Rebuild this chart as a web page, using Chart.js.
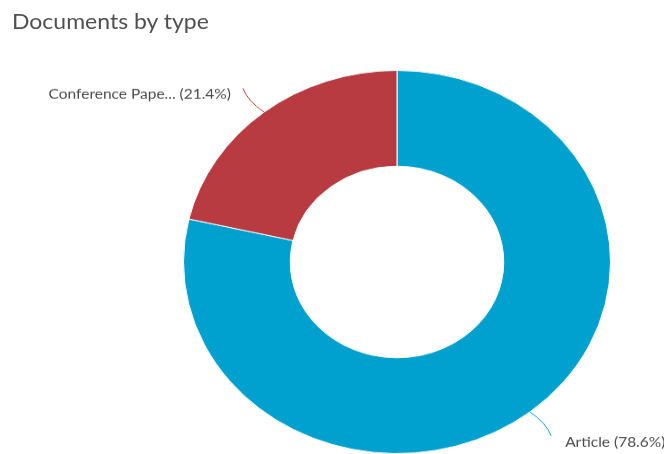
<!DOCTYPE html>
<html lang="en">
<head>
    <meta charset="UTF-8">
    <title>Documents by type</title>
    <script src="https://cdn.jsdelivr.net/npm/chart.js"></script>
    <style>
        html, body { margin: 0; padding: 0; background: #fff; overflow: hidden; }
        /* the reference is squashed vertically, so draw tall and scale down */
        #wrap {
            position: relative;
            width: 664px;
            height: 506px;
            transform: scaleY(0.8972);
            transform-origin: 0 0;
        }
        #title {
            position: absolute;
            left: 12px;
            top: 12px;
            font: 23px Lato, sans-serif;
            line-height: 23px;
            color: #505050;
            white-space: nowrap;
        }
        canvas { position: absolute; left: 0; top: 0; }
    </style>
</head>
<body>
<div id="wrap">
    <div id="title">Documents by type</div>
    <canvas id="myChart" width="664" height="506"></canvas>
</div>

<script>
    const categories = ['Article', 'Conference Paper'];
    const shares = [78.6, 21.4];
    const colors = ['#00a0cf', '#b83b42'];

    // labels with leader lines, like the original
    const sliceLabels = {
        id: 'sliceLabels',
        afterDatasetsDraw(chart) {
            const ctx = chart.ctx;
            const arcs = chart.getDatasetMeta(0).data;
            ctx.save();
            ctx.font = '15.5px Lato, sans-serif';
            ctx.textBaseline = 'middle';
            arcs.forEach((arc, i) => {
                const p = arc.getProps(['x', 'y', 'startAngle', 'endAngle', 'outerRadius'], true);
                const mid = (p.startAngle + p.endAngle) / 2;
                const c = Math.cos(mid), s = Math.sin(mid);
                const r = p.outerRadius;
                const sx = p.x + c * r, sy = p.y + s * r;
                const ex = p.x + c * (r + 34), ey = p.y + s * (r + 34);
                const cx = p.x + c * (r + 20) + (c < 0 ? -4 : 4), cy = p.y + s * (r + 20) + (s < 0 ? 3 : -3);
                ctx.strokeStyle = colors[i];
                ctx.lineWidth = 1;
                ctx.beginPath();
                ctx.moveTo(sx, sy);
                ctx.quadraticCurveTo(cx, cy, ex, ey);
                ctx.stroke();

                let name = categories[i];
                if (name.length > 15) name = name.slice(0, 15) + '...';
                const text = name + ' (' + shares[i].toFixed(1) + '%)';
                ctx.fillStyle = '#4a4a4a';
                if (c < 0) {
                    ctx.textAlign = 'right';
                    ctx.fillText(text, ex - 12, ey + 7);
                } else {
                    ctx.textAlign = 'left';
                    ctx.fillText(text, ex + 14, ey + 7);
                }
            });
            ctx.restore();
        }
    };

    const ctx = document.getElementById('myChart').getContext('2d');
    new Chart(ctx, {
        type: 'doughnut',
        data: {
            labels: categories,
            datasets: [{
                data: shares,
                backgroundColor: colors,
                borderColor: '#ffffff',
                borderWidth: 1
            }]
        },
        options: {
            responsive: false,
            animation: false,
            cutout: '50%',
            layout: {
                padding: { left: 183, right: 53, top: 78, bottom: 0 }
            },
            plugins: {
                legend: { display: false },
                tooltip: { enabled: false }
            }
        },
        plugins: [sliceLabels]
    });
</script>
</body>
</html>
